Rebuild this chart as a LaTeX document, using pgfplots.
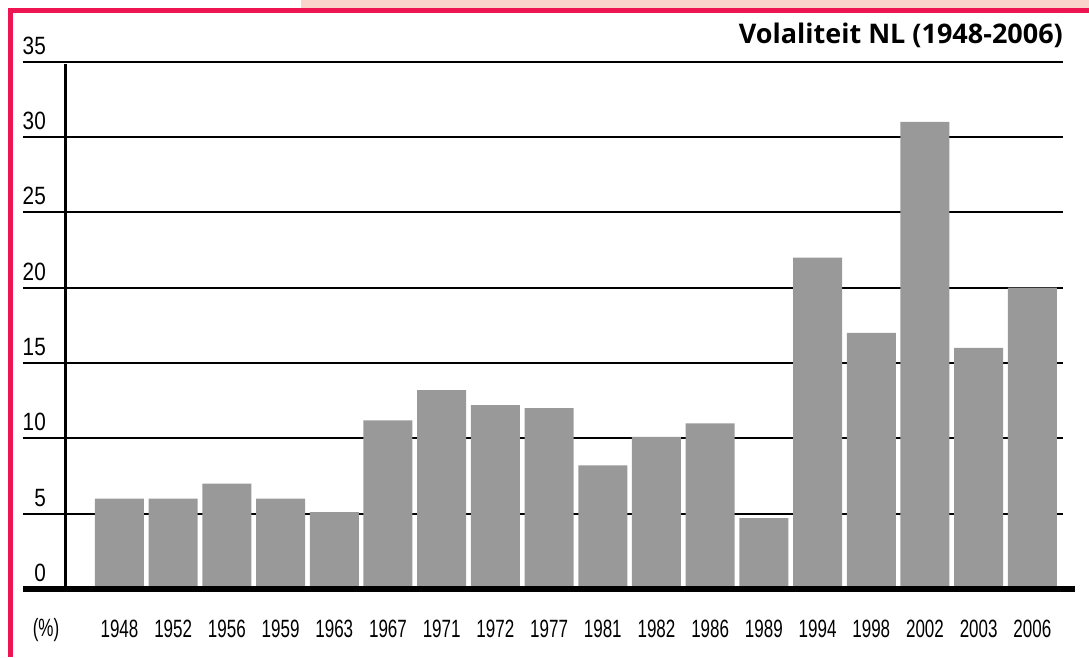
\documentclass[border=0pt]{standalone}
\usepackage{fontspec}
\usepackage{pgfplots}
\pgfplotsset{compat=1.18}
\setmainfont{Liberation Sans}
\newfontfamily\yfont[FakeStretch=0.83]{Liberation Sans}
\newfontfamily\xfont[FakeStretch=0.68]{Liberation Sans}
\newfontfamily\titlefont{Open Sans}
\definecolor{barg}{HTML}{999999}
\definecolor{redl}{HTML}{EE1652}
\definecolor{pinkb}{HTML}{FAD3CB}
\begin{document}
\begin{tikzpicture}
\path[use as bounding box] (0,0) rectangle (1089pt,657pt);
\begin{axis}[
  at={(23pt,68pt)}, anchor=south west,
  scale only axis, width=1040pt, height=527.3pt,
  xmin=-1.797, xmax=17.57, ymin=0, ymax=35,
  axis line style={draw=none}, major tick length=0pt,
  ytick={0,5,...,35},
  ymajorgrids, grid style={black, line width=2pt},
  xtick={0,...,17},
  xticklabels={1948,1952,1956,1959,1963,1967,1971,1972,1977,1981,1982,1986,1989,1994,1998,2002,2003,2006},
  xticklabel style={font=\xfont\fontsize{25}{30}\selectfont, anchor=center, inner sep=0pt, yshift=-39.5pt},
  yticklabel style={font=\yfont\fontsize{25}{30}\selectfont, anchor=base east, inner sep=0pt, xshift=23pt, yshift=7.5pt},
  /pgf/number format/assume math mode=true,
  clip=false,
]
\addplot[ybar, bar width=0.9125, bar shift=0pt, fill=barg, draw=none] coordinates {
(0,6) (1,6) (2,7) (3,6) (4,5.1) (5,11.2) (6,13.2) (7,12.2) (8,12.0) (9,8.2)
(10,10.1) (11,11.0) (12,4.7) (13,22) (14,17) (15,31) (16,16) (17,20)};
\addplot[black, line width=3pt] coordinates {(-1,0) (-1,34.85)};
\end{axis}
\begin{scope}[x=1pt,y=-1pt,shift={(0pt,657pt)}]
\fill[pinkb] (301,0) rectangle (1089,8);
\fill[redl] (8,8) rectangle (1089,13);
\fill[redl] (8,8) rectangle (13,657);
\draw[line width=6pt] (23,589) -- (1075,589);
\node[font=\xfont\fontsize{25}{30}\selectfont, inner sep=0pt] at (46,630) {(\%)};
\node[font=\titlefont\bfseries\fontsize{27}{32}\selectfont, anchor=base east, inner sep=0pt] at (1063,43.5) {Volaliteit NL (1948-2006)};
\end{scope}
\end{tikzpicture}
\end{document}
